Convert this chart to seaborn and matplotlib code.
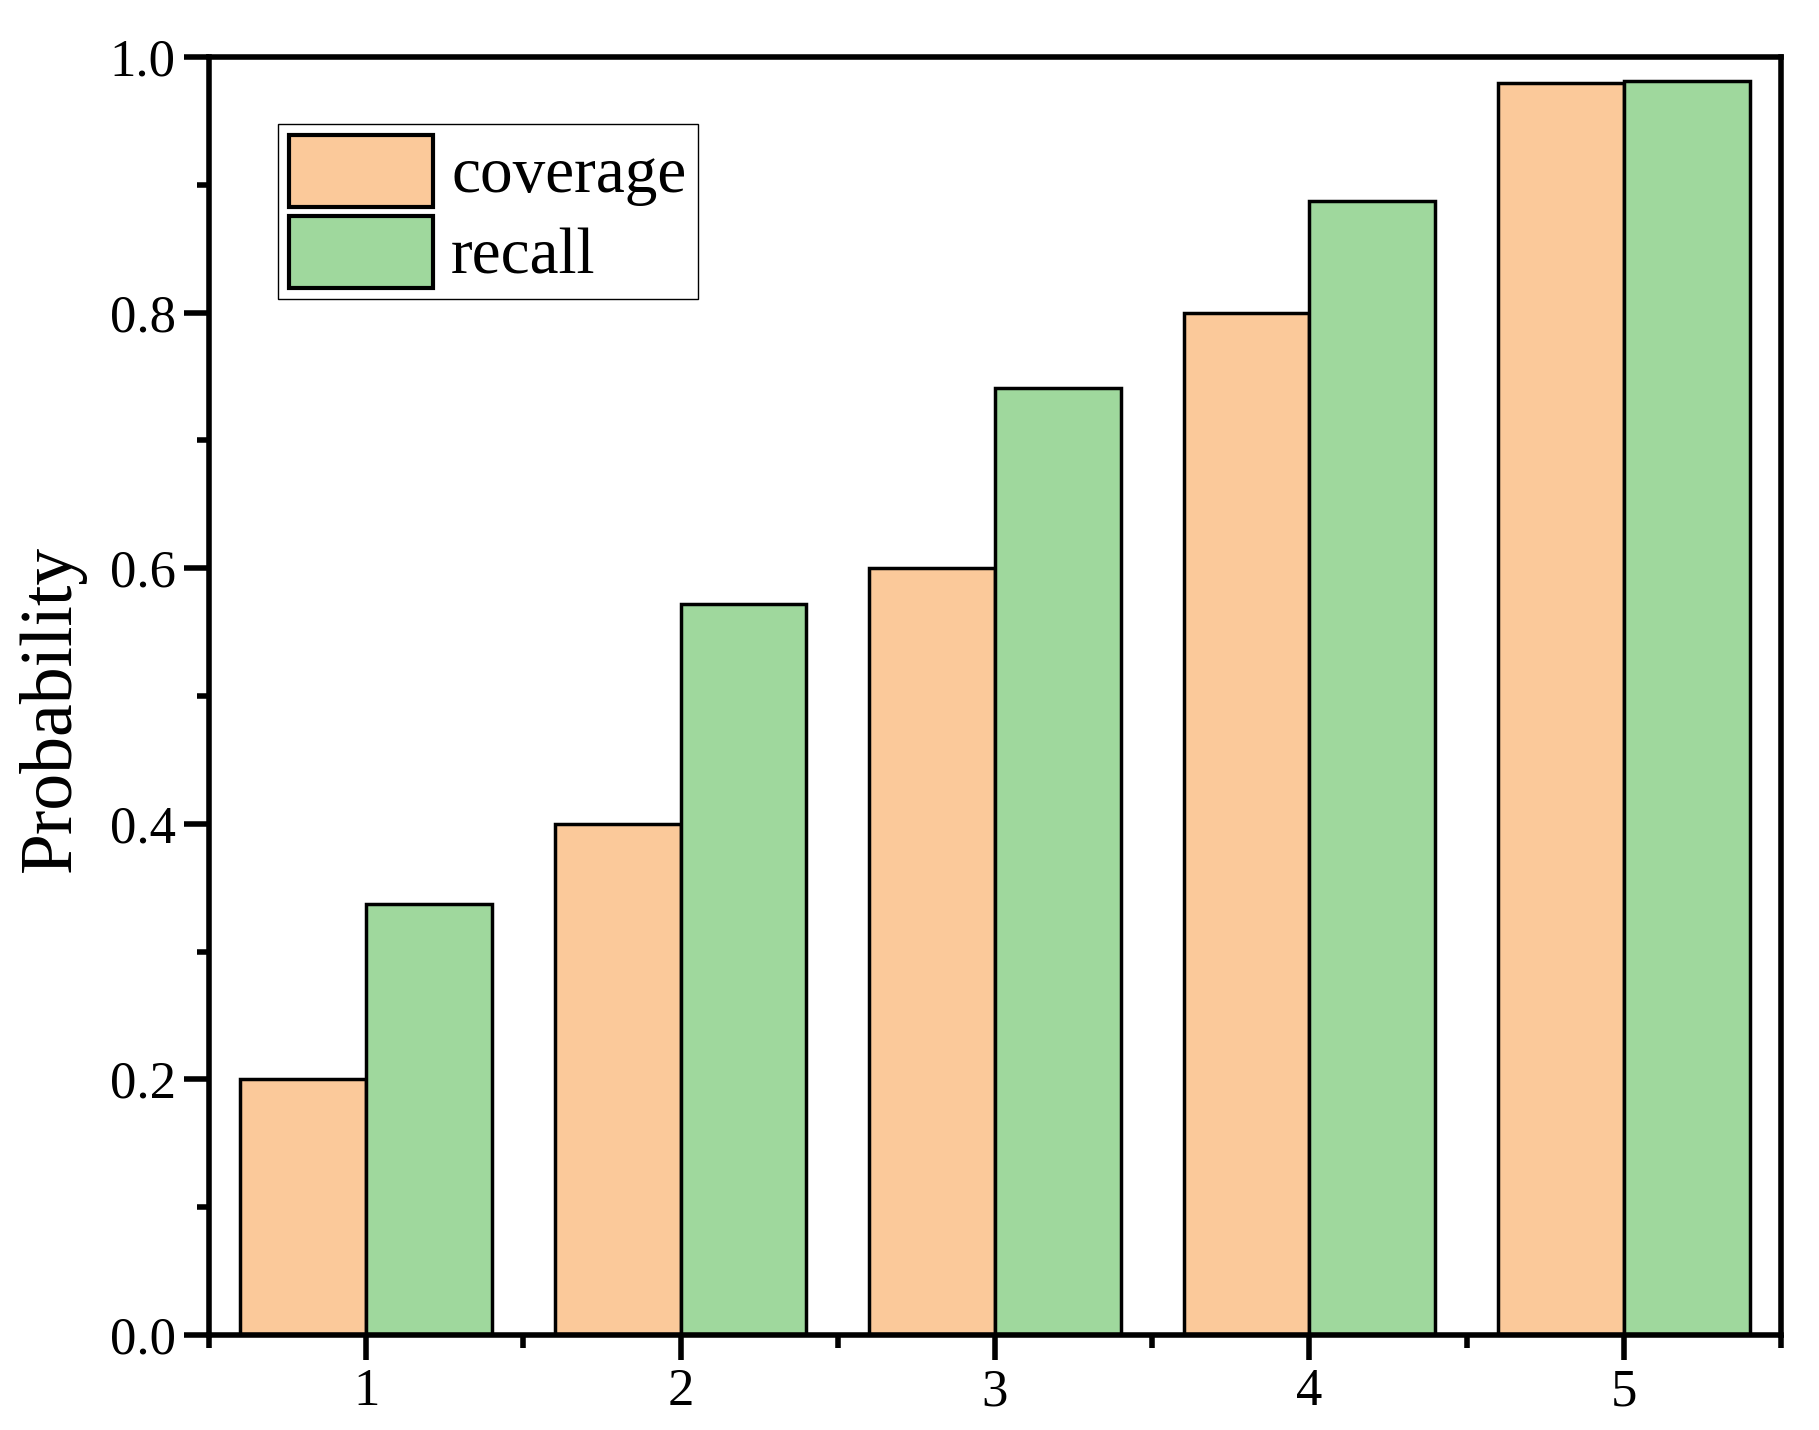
import matplotlib
matplotlib.use("Agg")
import matplotlib.pyplot as plt
import pandas as pd
import seaborn as sns
from matplotlib.ticker import FixedLocator, MultipleLocator

steps = ["1", "2", "3", "4", "5"]
coverage = [0.2, 0.4, 0.6, 0.8, 0.98]
recall = [0.337, 0.572, 0.741, 0.887, 0.981]
series = ["coverage", "recall"]
colors = ["#FBC99A", "#9FD89D"]

df = pd.DataFrame(
    {
        "step": steps * 2,
        "value": coverage + recall,
        "metric": [series[0]] * len(steps) + [series[1]] * len(steps),
    }
)

sns.set_style("ticks")
plt.rcParams["font.family"] = ["Liberation Serif", "DejaVu Serif"]
plt.rcParams["text.color"] = "black"
plt.rcParams["axes.labelcolor"] = "black"
plt.rcParams["xtick.color"] = "black"
plt.rcParams["ytick.color"] = "black"

fig = plt.figure(figsize=(18.19, 14.30), dpi=100)
ax = fig.add_axes([0.1149, 0.0664, 0.8642, 0.8937])

sns.barplot(
    data=df,
    x="step",
    y="value",
    hue="metric",
    palette=colors,
    width=0.8,
    saturation=1,
    edgecolor="black",
    linewidth=2.5,
    ax=ax,
)

ax.set_xlim(-0.5, len(steps) - 0.5)
ax.set_ylim(0, 1.0)
ax.yaxis.set_major_locator(MultipleLocator(0.2))
ax.yaxis.set_minor_locator(MultipleLocator(0.1))
ax.xaxis.set_minor_locator(FixedLocator([i - 0.5 for i in range(len(steps) + 1)]))
ax.set_yticklabels([f"{t:.1f}" for t in ax.get_yticks()])

for side in ["left", "right", "top", "bottom"]:
    ax.spines[side].set_visible(True)
    ax.spines[side].set_linewidth(4)
    ax.spines[side].set_color("black")

ax.tick_params(axis="both", which="major", direction="out", length=18, width=4,
               labelsize=38, pad=6, colors="black")
ax.tick_params(axis="both", which="minor", direction="out", length=9, width=4,
               color="black")

ax.set_xlabel("")
ax.set_ylabel("Probability", fontsize=53)
ax.yaxis.set_label_coords(-0.078, 0.49)

leg = ax.legend(
    loc="upper left",
    bbox_to_anchor=(0.044, 0.948),
    borderaxespad=0,
    fontsize=47,
    handlelength=2.2,
    handleheight=1.32,
    labelspacing=0.14,
    handletextpad=0.28,
    borderpad=0.17,
    fancybox=False,
    framealpha=1,
    edgecolor="black",
    title=None,
)
leg.get_frame().set_linewidth(1.0)
for h in leg.legend_handles:
    h.set_linewidth(3)

fig.savefig("out.png", dpi=100)
